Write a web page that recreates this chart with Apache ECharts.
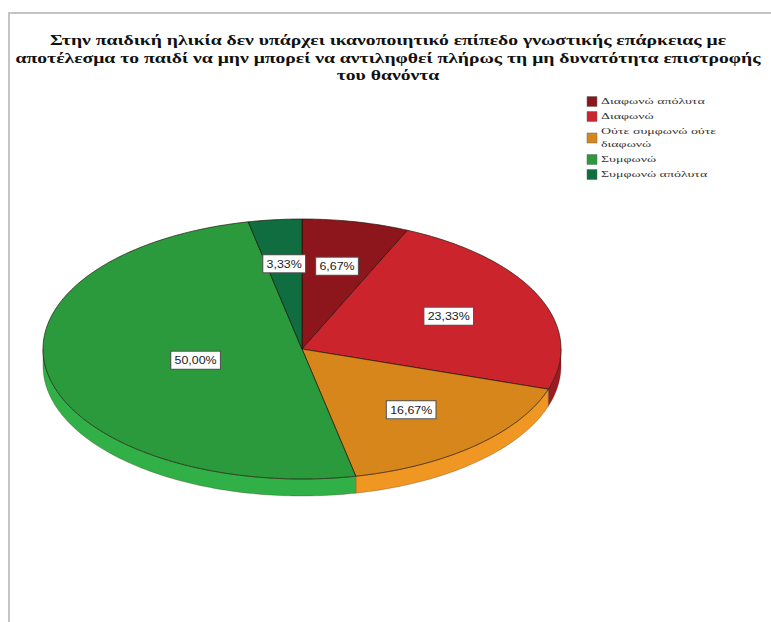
<!DOCTYPE html>
<html>
<head>
<meta charset="utf-8">
<script src="https://cdn.jsdelivr.net/npm/echarts@6/dist/echarts.min.js"></script>
<style>
  html, body { margin: 0; padding: 0; background: #ffffff; }
  #chart { width: 771px; height: 622px; }
</style>
</head>
<body>
<div id="chart"></div>
<script>
// Title, split into its three printed lines
const titleLines = [
  'Στην παιδική ηλικία δεν υπάρχει ικανοποιητικό επίπεδο γνωστικής επάρκειας με',
  'αποτέλεσμα το παιδί να μην μπορεί να αντιληφθεί πλήρως τη μη δυνατότητα επιστροφής',
  'του θανόντα'
];

// Answer categories (legend order = slice order, clockwise from 12 o'clock)
const categories = [
  'Διαφωνώ απόλυτα',
  'Διαφωνώ',
  'Ούτε συμφωνώ ούτε\nδιαφωνώ',
  'Συμφωνώ',
  'Συμφωνώ απόλυτα'
];

// Share of respondents per category, in percent
const percents = [6.67, 23.33, 16.67, 50.00, 3.33];

// Styling
const topColors  = ['#8c161b', '#cb242c', '#d6861b', '#2b9a3d', '#0f6d3f'];
const sideColors = ['#72111a', '#9c1a22', '#ef9722', '#31b047', '#12804a'];
const labelRadius = [0.65, 0.62, 0.63, 0.42, 0.66];
const PIE = { cx: 302, cy: 349, rx: 259, ry: 130, depth: 17 };
const SERIF = "'Liberation Serif', serif";

// cumulative start of each slice, in percent
const starts = [];
percents.reduce((acc, v) => { starts.push(acc); return acc + v; }, 0);
const sliceData = percents.map((v, i) => ({ name: categories[i], value: [starts[i], v] }));

function pt(deg, rScale, dy) {
  const a = deg * Math.PI / 180;
  return [PIE.cx + PIE.rx * rScale * Math.sin(a), PIE.cy - PIE.ry * rScale * Math.cos(a) + dy];
}
function arc(a, b, dy) {
  const n = Math.max(2, Math.ceil(Math.abs(b - a)));
  const pts = [];
  for (let i = 0; i <= n; i++) pts.push(pt(a + (b - a) * i / n, 1, dy));
  return pts;
}
function fmtPct(v) { return v.toFixed(2).replace('.', ',') + '%'; }

function renderSlice(params, api) {
  const idx = params.dataIndex;
  const a0 = api.value(0) * 3.6;
  const a1 = (api.value(0) + api.value(1)) * 3.6;
  const children = [];
  // visible rim on the front half of the disc
  const s = Math.max(a0, 90), e = Math.min(a1, 270);
  if (e > s) {
    children.push({
      type: 'polygon',
      shape: { points: arc(s, e, 0).concat(arc(e, s, PIE.depth)) },
      style: { fill: sideColors[idx], stroke: 'rgba(60,30,10,0.45)', lineWidth: 0.6 }
    });
  }
  // top face
  children.push({
    type: 'polygon',
    shape: { points: [[PIE.cx, PIE.cy]].concat(arc(a0, a1, 0)) },
    style: { fill: topColors[idx], stroke: 'rgba(30,20,10,0.75)', lineWidth: 0.9 }
  });
  // value label
  const mid = (a0 + a1) / 2;
  const lp = pt(mid, labelRadius[idx], 0);
  children.push({
    type: 'text',
    x: lp[0], y: lp[1], scaleX: 1.08,
    style: {
      text: fmtPct(api.value(1)),
      textAlign: 'center', textVerticalAlign: 'middle',
      fontSize: 11.5, fontFamily: "'Liberation Sans Narrow', 'Liberation Sans', sans-serif",
      fill: '#222',
      backgroundColor: '#ffffff',
      borderColor: '#555',
      borderWidth: 1,
      padding: [3, 3, 2, 3]
    }
  });
  return { type: 'group', children };
}

// Frame, title and legend drawn as graphic elements
const graphics = [];
graphics.push({
  type: 'rect', silent: true,
  shape: { x: 9, y: 13, width: 800, height: 700 },
  style: { fill: 'none', stroke: '#c4c4c4', lineWidth: 2 }
});
const titleY = [40, 58, 75];
titleLines.forEach((line, i) => {
  graphics.push({
    type: 'text', x: 388, y: titleY[i], scaleX: 1.31,
    style: {
      text: line, textAlign: 'center', textVerticalAlign: 'middle',
      fontSize: 15, fontWeight: 'bold', fontFamily: SERIF, fill: '#111'
    }
  });
});
let ly = 95;
categories.forEach((label, i) => {
  const lines = label.split('\n').length;
  const h = lines * 13;
  graphics.push({
    type: 'rect',
    shape: { x: 587, y: ly + h / 2 - 5, width: 10, height: 10 },
    style: { fill: topColors[i], stroke: '#666', lineWidth: 0.5 }
  });
  graphics.push({
    type: 'text', x: 601, y: ly, scaleX: 1.55,
    style: {
      text: label, textAlign: 'left', textVerticalAlign: 'top',
      fontSize: 9, fontFamily: SERIF, fill: '#333', lineHeight: 13
    }
  });
  ly += h + 2;
});

const chart = echarts.init(document.getElementById('chart'), null, { renderer: 'svg' });
chart.setOption({
  animation: false,
  backgroundColor: '#ffffff',
  graphic: graphics,
  series: [{
    type: 'custom',
    coordinateSystem: 'none',
    renderItem: renderSlice,
    data: sliceData
  }]
});
</script>
</body>
</html>
